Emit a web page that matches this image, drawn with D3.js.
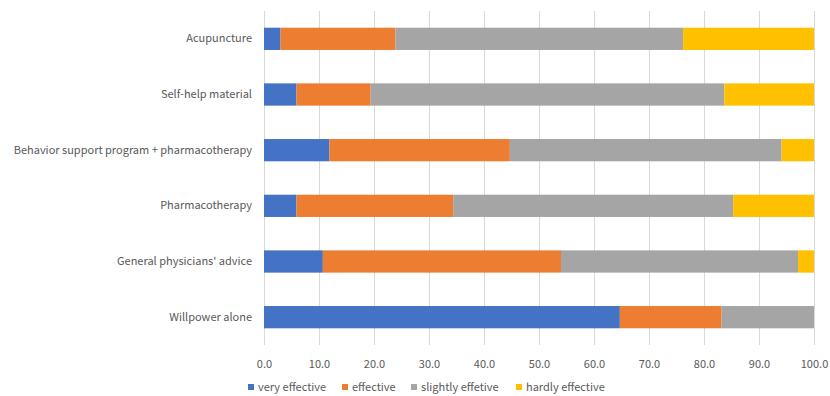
<!DOCTYPE html>
<html>
<head>
<meta charset="utf-8">
<script src="https://cdnjs.cloudflare.com/ajax/libs/d3/7.8.5/d3.min.js"></script>
<style>
  body { margin: 0; background: #fff; }
  text { font-family: "Noto Sans CJK KR", "Noto Sans", sans-serif; fill: #595959; }
</style>
</head>
<body>
<div id="my_dataviz"></div>
<script>

var categories = [
  "Acupuncture",
  "Self-help material",
  "Behavior support program + pharmacotherapy",
  "Pharmacotherapy",
  "General physicians' advice",
  "Willpower alone"
];
var seriesNames = ["very effective", "effective", "slightly effetive", "hardly effective"];
var veryEffective     = [3.0, 5.9, 11.9, 5.9, 10.7, 64.7];
var effective         = [20.9, 13.5, 32.8, 28.5, 43.3, 18.5];
var slightlyEffective = [52.3, 64.3, 49.4, 50.9, 43.1, 16.8];
var hardlyEffective   = [23.8, 16.3, 5.9, 14.7, 2.9, 0.0];
var xTicks = [0, 10, 20, 30, 40, 50, 60, 70, 80, 90, 100];
var colors = ["#4472C4", "#ED7D31", "#A5A5A5", "#FFC000"];

var W = 830, H = 396;
var margin = {top: 11, right: 16, bottom: 51, left: 264},
    width = W - margin.left - margin.right,
    height = H - margin.top - margin.bottom;

var rows = categories.map(function(c, i) {
  return {cat: c, v0: veryEffective[i], v1: effective[i], v2: slightlyEffective[i], v3: hardlyEffective[i]};
});
var stack = d3.stack().keys(["v0", "v1", "v2", "v3"])(rows);

var svg = d3.select("#my_dataviz")
  .append("svg")
    .attr("width", W)
    .attr("height", H)
  .append("g")
    .attr("transform", "translate(" + margin.left + "," + margin.top + ")");

var x = d3.scaleLinear().domain([0, 100]).range([0, width]);
var y = d3.scaleBand().domain(categories).range([0, height]).paddingInner(0.6).paddingOuter(0.3);

// gridlines
svg.append("g")
  .selectAll("line")
  .data(xTicks)
  .enter().append("line")
    .attr("x1", function(d) { return x(d) + 0.5; })
    .attr("x2", function(d) { return x(d) + 0.5; })
    .attr("y1", 0)
    .attr("y2", height)
    .attr("stroke", "#D9D9D9")
    .attr("stroke-width", 1);

// bars
svg.append("g")
  .selectAll("g")
  .data(stack)
  .enter().append("g")
    .attr("fill", function(d, i) { return colors[i]; })
  .selectAll("rect")
  .data(function(d) { return d; })
  .enter().append("rect")
    .attr("x", function(d) { return x(d[0]); })
    .attr("width", function(d) { return x(d[1]) - x(d[0]); })
    .attr("y", function(d) { return y(d.data.cat); })
    .attr("height", y.bandwidth());

// x axis labels
var xAxis = d3.axisBottom(x).tickValues(xTicks).tickSize(0).tickPadding(15)
  .tickFormat(d3.format(".1f"));
var gx = svg.append("g")
  .attr("transform", "translate(0," + height + ")")
  .call(xAxis);
gx.select(".domain").remove();
gx.selectAll("text").style("font-size", "11px").attr("fill", "#595959");

// category labels
var yAxis = d3.axisLeft(y).tickSize(0).tickPadding(12);
var gy = svg.append("g").call(yAxis);
gy.select(".domain").remove();
gy.selectAll("text").style("font-size", "11px").attr("fill", "#595959");

// legend
var legendX = [248, 342, 411, 516];
var legend = d3.select("svg").append("g")
  .selectAll("g")
  .data(seriesNames)
  .enter().append("g")
    .attr("transform", function(d, i) { return "translate(" + legendX[i] + ",391)"; });
legend.append("rect")
  .attr("x", 0).attr("y", -7)
  .attr("width", 6).attr("height", 6)
  .attr("fill", function(d, i) { return colors[i]; });
legend.append("text")
  .attr("x", 10).attr("y", 0)
  .style("font-size", "11px")
  .text(function(d) { return d; });

</script>
</body>
</html>
